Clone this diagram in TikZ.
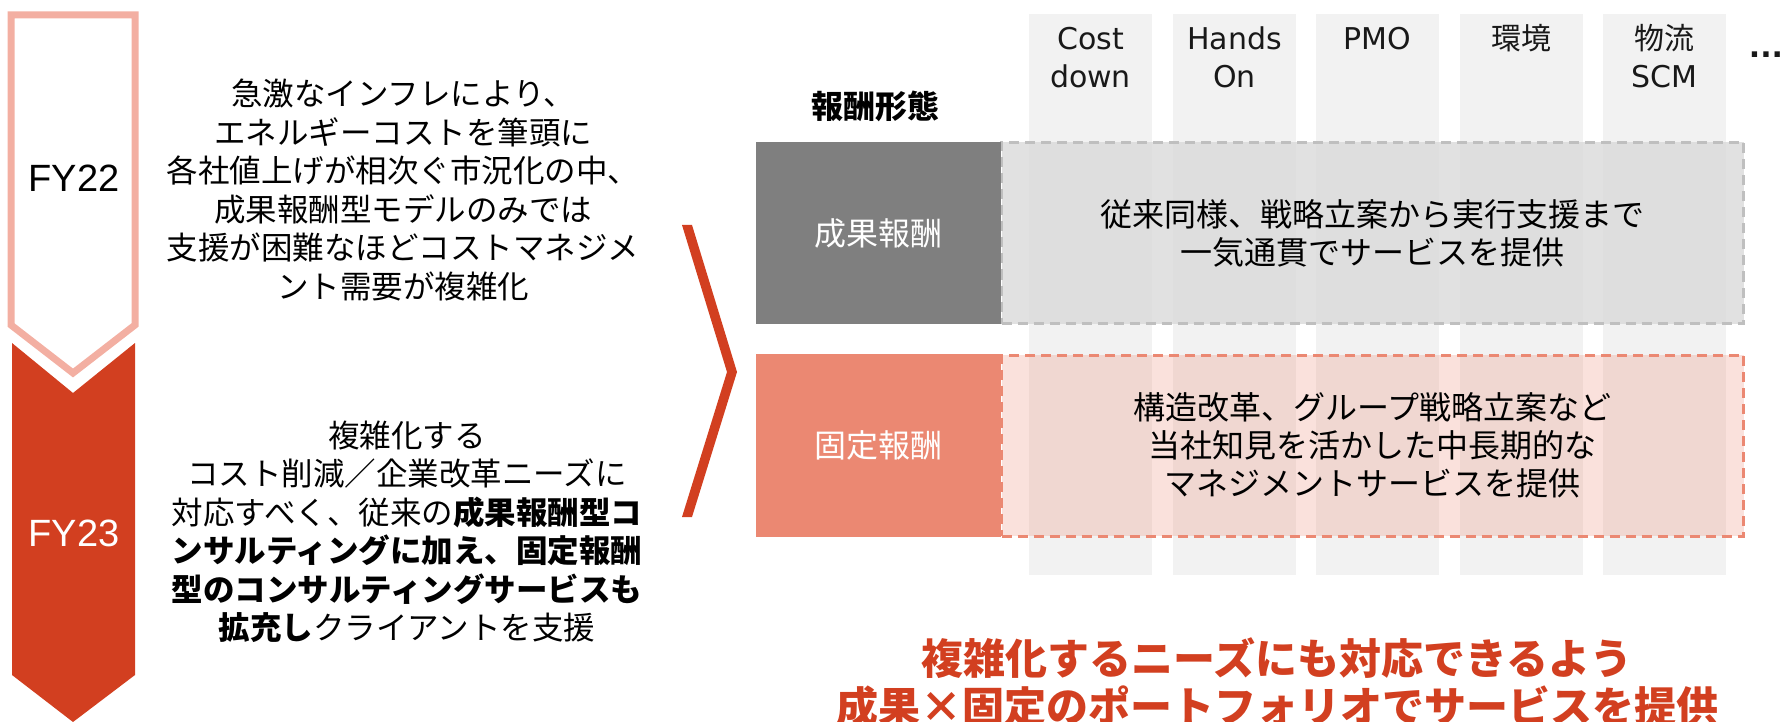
\documentclass[tikz,border=0pt]{standalone}
\usepackage{fontspec}
\setmainfont{Liberation Sans}
\newfontfamily\jpfont{Noto Sans CJK JP}
\newfontfamily\hdfont{DejaVu Sans}
\usetikzlibrary{positioning}

\definecolor{fyred}{RGB}{210,63,32}
\definecolor{fypink}{RGB}{243,175,162}
\definecolor{boxgray}{RGB}{127,127,127}
\definecolor{boxsalmon}{RGB}{235,136,114}
\definecolor{colgray}{RGB}{242,242,242}
\definecolor{dashgray}{RGB}{191,191,191}
\definecolor{fillgray}{RGB}{217,217,217}

\tikzset{
	fylabel/.style={font=\fontsize{38}{38}\selectfont},
	bodytext/.style={align=center,font=\jpfont\fontsize{31.5}{38.5}\selectfont},
	colhead/.style={anchor=base,font=\hdfont\fontsize{30}{38}\selectfont,text=black!90},
	paybox/.style={inner sep=0pt,outer sep=0pt,minimum width=245pt,minimum height=182pt,text=white,font=\jpfont\fontsize{32}{38}\selectfont},
	servbox/.style={inner sep=0pt,outer sep=0pt,minimum width=742pt,minimum height=181pt,align=center,line width=3pt,dash pattern=on 10pt off 6pt,text opacity=1,font=\jpfont\fontsize{32}{38}\selectfont},
	pitch/.style={align=center,text=fyred,font=\jpfont\bfseries\fontsize{42}{48}\selectfont}
}

\begin{document}
\begin{tikzpicture}[x=1pt,y=-1pt,thick]
	\useasboundingbox (0,0) rectangle (1781,722);
	\draw[draw=fypink,line width=7pt] (11,15) -- (135,15) -- (135,325) -- (73,373) -- (11,325) -- cycle;
	\fill[fyred] (12,343) -- (73,393) -- (135,343) -- (135,675) -- (73,722) -- (12,675) -- cycle;
	\node[fylabel] (fy22) at (74,178) {FY22};
	\node[fylabel,text=white] (fy23) at (74,533) {FY23};

	\node[bodytext] (before) at (403,190) {急激なインフレにより、\\エネルギーコストを筆頭に\\各社値上げが相次ぐ市況化の中、\\成果報酬型モデルのみでは\\支援が困難なほどコストマネジメ\\ント需要が複雑化};
	\node[bodytext] (after) at (407,532) {複雑化する\\コスト削減／企業改革ニーズに\\対応すべく、従来の\textbf{成果報酬型コ}\\\textbf{ンサルティングに加え、固定報酬}\\\textbf{型のコンサルティングサービスも}\\\textbf{拡充し}クライアントを支援};

	\fill[fyred] (682,225) -- (692,225) -- (737,372) -- (692,517) -- (682,517) -- (727,372) -- cycle;

	\foreach \x/\a/\b [count=\i] in {1029/Cost/down,1173/Hands/On,1316/PMO/{},1460/{\jpfont 環境}/{},1603/{\jpfont 物流}/SCM}
	{
		\fill[colgray] (\x,14) rectangle ++(123,561);
		\node[colhead] (top\i) at (\x+61.5,50) {\a};
		\node[colhead] (bot\i) at (\x+61.5,88) {\b};
	}
	\node[colhead,font=\hdfont\bfseries\fontsize{30}{30}\selectfont] (more) at (1766,58) {...};
	\node[font=\jpfont\bfseries\fontsize{32}{32}\selectfont] (form) at (875,106) {報酬形態};

	\node[servbox,draw=dashgray,fill=fillgray,fill opacity=0.8] (serv1) at (1372.5,233) {従来同様、戦略立案から実行支援まで\\一気通貫でサービスを提供};
	\node[paybox,fill=boxgray] (seika) at (878.5,233) {成果報酬};
	\node[servbox,draw=boxsalmon,fill=boxsalmon,fill opacity=0.25] (serv2) at (1372.5,445.5) {構造改革、グループ戦略立案など\\当社知見を活かした中長期的な\\マネジメントサービスを提供};
	\node[paybox,fill=boxsalmon,minimum height=183pt] (kotei) at (878.5,445.5) {固定報酬};

	\node[pitch] (msg) at (1277,682) {複雑化するニーズにも対応できるよう\\成果×固定のポートフォリオでサービスを提供};
\end{tikzpicture}
\end{document}
